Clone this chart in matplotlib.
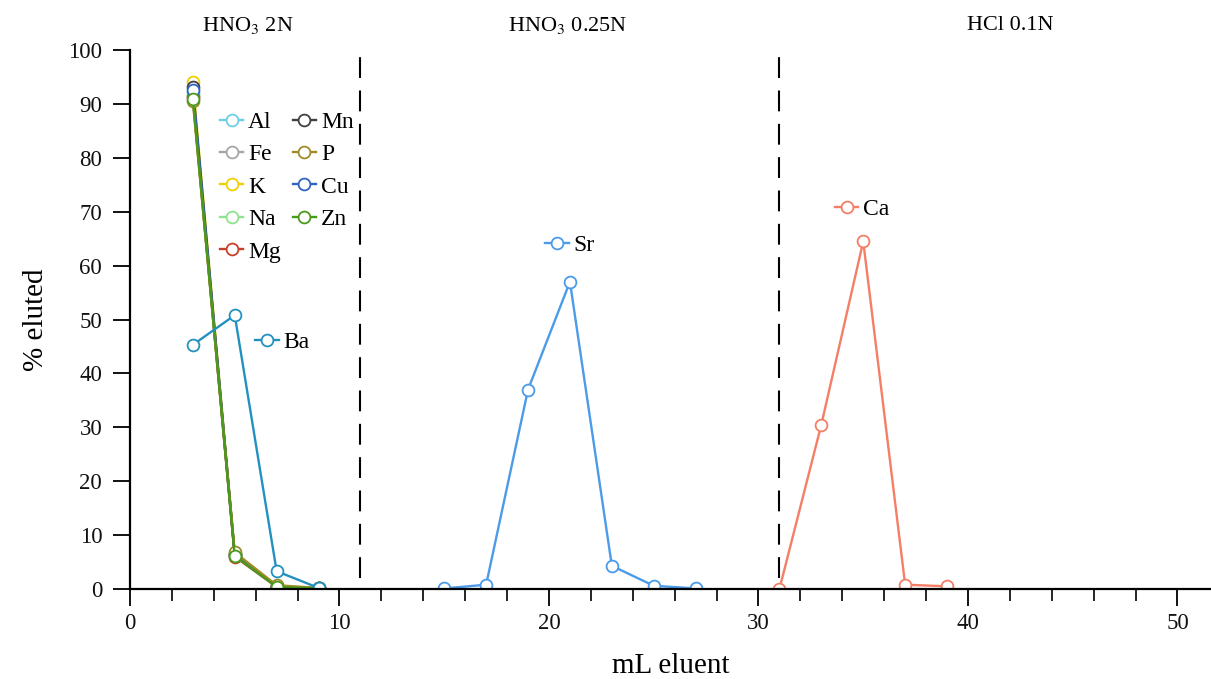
import matplotlib.pyplot as plt

plt.rcParams['font.family'] = ['Liberation Serif', 'DejaVu Serif']
plt.rcParams['mathtext.fontset'] = 'stix'

# elution volumes (mL)
x_early = [3, 5, 7, 9]
x_sr = [15, 17, 19, 21, 23, 25, 27]
x_ca = [31, 33, 35, 37, 39]

# % eluted, matrix elements in HNO3 2N
al = [92.2, 6.3, 0.5, 0.1]
fe = [91.5, 6.2, 0.5, 0.1]
k = [94.0, 6.5, 0.6, 0.1]
na = [91.8, 6.4, 0.5, 0.1]
mg = [91.2, 6.0, 0.4, 0.1]
mn = [93.2, 6.5, 0.5, 0.1]
p = [90.5, 6.8, 0.7, 0.2]
cu = [92.6, 6.3, 0.5, 0.1]
zn = [91.0, 6.1, 0.4, 0.1]
ba = [45.3, 50.8, 3.3, 0.2]
sr = [0.1, 0.8, 37.0, 57.0, 4.3, 0.6, 0.1]
ca = [0.0, 30.5, 64.5, 0.8, 0.5]

matrix = [('Al', al, '#6ccfe6'), ('Fe', fe, '#a6a6a6'), ('K', k, '#f0d000'),
          ('Na', na, '#8ee48e'), ('Mg', mg, '#c8402a'), ('Mn', mn, '#404040'),
          ('P', p, '#a08c2a'), ('Cu', cu, '#2f64c0'), ('Zn', zn, '#4a9a1a')]

sections = ['HNO$_3$ 2N', 'HNO$_3$ 0.25N', 'HCl 0.1N']
section_x = [5.6, 20.9, 42.0]
cuts = [11, 31]

fig = plt.figure(figsize=(12.11, 6.79), dpi=100)
ax = fig.add_axes([130 / 1211, 90 / 679, 1081 / 1211, 539 / 679])

mk = dict(marker='o', markersize=8.5, markerfacecolor='white', lw=1.7, mew=1.3)

def series(xv, yv, name, color):
    return ax.plot(xv, yv, color=color, markeredgecolor=color, label=name, **mk)[0]

# draw order so that Zn/P end up on top like in the original
order = ['Al', 'Fe', 'K', 'Na', 'Mg', 'Mn', 'Cu', 'P', 'Zn']
handles = {}
lookup = {m[0]: m for m in matrix}
for name in order:
    _, yv, c = lookup[name]
    handles[name] = series(x_early, yv, name, c)
h_ba = series(x_early, ba, 'Ba', '#2391c0')
h_sr = series(x_sr, sr, 'Sr', '#4c9be8')
h_ca = series(x_ca, ca, 'Ca', '#f47e66')

for c in cuts:
    ax.axvline(c, ymin=0.02, ymax=1, color='black', lw=1.5, dashes=(10, 6))

ax.set_xlim(0, 51.6)
ax.set_ylim(0, 100)
ax.set_xticks([0, 10, 20, 30, 40, 50])
ax.set_xticks(range(0, 52, 2), minor=True)
ax.set_yticks(range(0, 101, 10))
for s in ['top', 'right']:
    ax.spines[s].set_visible(False)
ax.spines['left'].set_linewidth(1.6)
ax.spines['bottom'].set_linewidth(1.6)
ax.tick_params(axis='both', which='major', direction='out', length=12, width=1.4,
               labelsize=16.5, colors='#111111')
ax.tick_params(axis='x', which='major', pad=5)
ax.tick_params(axis='y', which='major', pad=8)
ax.tick_params(axis='x', which='minor', direction='out', length=8.5, width=1.2)
ax.set_xlabel('mL eluent', fontsize=21, labelpad=14)
ax.set_ylabel('% eluted', fontsize=21, labelpad=14)

for lab, xs in zip(sections, section_x):
    ax.text(xs, 1.046, lab, transform=ax.get_xaxis_transform(), ha='center',
            va='center', fontsize=16)

leg_kw = dict(frameon=False, fontsize=17, handlelength=1.0, handletextpad=0.2,
              borderpad=0, borderaxespad=0, loc='upper left')
leg1 = ax.legend([handles[n] for n in [m[0] for m in matrix]], [m[0] for m in matrix],
                 ncol=2, labelspacing=0.46, columnspacing=0.5,
                 bbox_to_anchor=(0.083, 0.886), **leg_kw)
ax.add_artist(leg1)
leg2 = ax.legend([h_ba], ['Ba'], bbox_to_anchor=(0.1156, 0.477), **leg_kw)
ax.add_artist(leg2)
leg3 = ax.legend([h_sr], ['Sr'], bbox_to_anchor=(0.384, 0.657), **leg_kw)
ax.add_artist(leg3)
ax.legend([h_ca], ['Ca'], bbox_to_anchor=(0.652, 0.724), **leg_kw)

fig.savefig('out.png', dpi=100)
